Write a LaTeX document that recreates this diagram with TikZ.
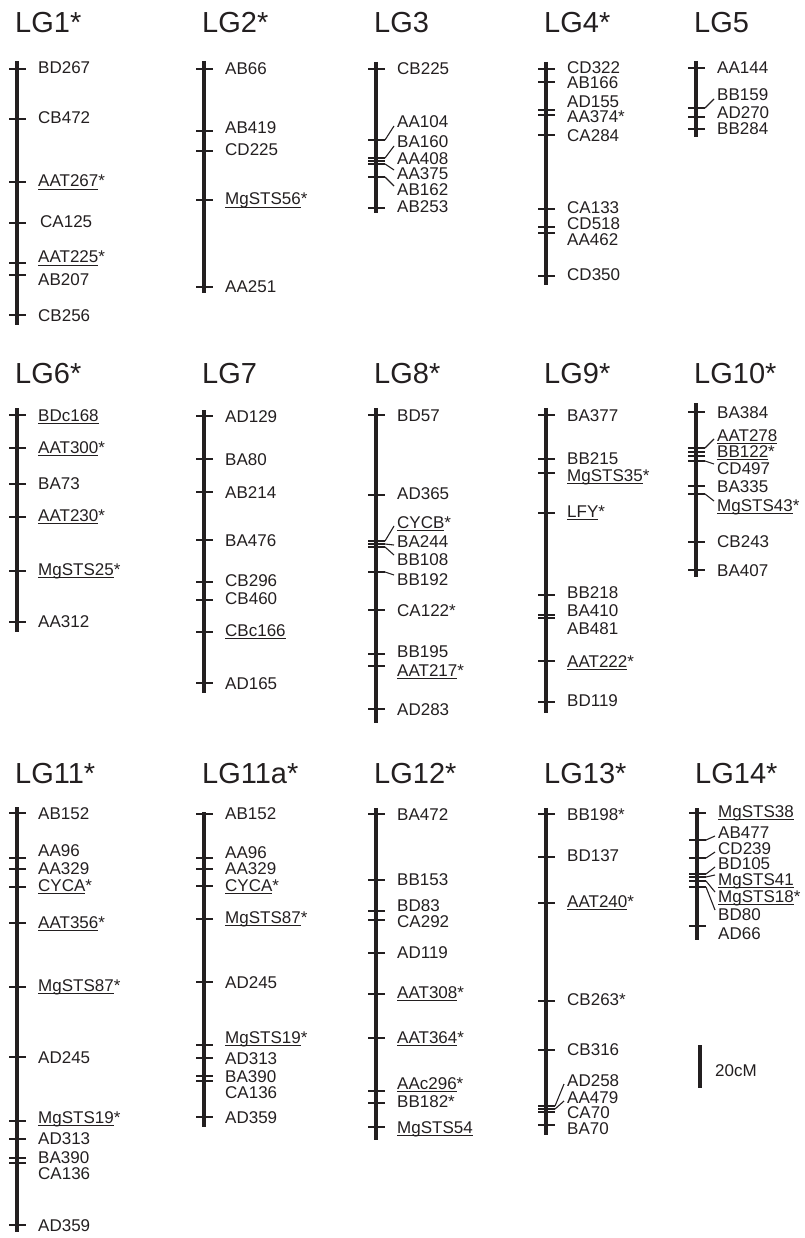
\documentclass[tikz,border=0pt]{standalone}
\usepackage{fontspec}
\setmainfont{Liberation Sans}
\definecolor{ink}{HTML}{231F20}
\newcommand\ul[1]{\setbox0=\hbox{#1}\rlap{\rule[-3.3pt]{\wd0}{1.3pt}}\box0}
\tikzset{
  chromline/.style={line width=4pt, draw=ink},
  tickline/.style={line width=1.8pt, draw=ink},
  leader/.style={line width=1.1pt, draw=ink},
  lbl/.style={anchor=base west, inner sep=0pt, text=ink, font=\fontsize{17}{17}\selectfont},
  ttl/.style={anchor=base west, inner sep=0pt, text=ink, font=\fontsize{29}{29}\selectfont},
}
% chromosome: x, top, bottom
\newcommand\chrom[3]{\draw[chromline] (#1,#2) -- (#1,#3);}
% marker: x, tick y, label y, text
\newcommand\mk[4]{%
  \draw[tickline] ({#1-8},#2) -- ({#1+9},#2);
  \node[lbl] at ({#1+21},{#3+6}) {#4};}
% marker with leader line
\newcommand\mkl[4]{%
  \draw[tickline] ({#1-8},#2) -- ({#1+9},#2);
  \draw[leader] ({#1+9},#2) -- ({#1+18},{#3+4*sign(#2-#3)});
  \node[lbl] at ({#1+21},{#3+6}) {#4};}
\newcommand\grp[3]{\node[ttl] at ({#1-2},#2) {#3};}
\begin{document}
\begin{tikzpicture}[x=1pt,y=-1pt]
\useasboundingbox (0,0) rectangle (804,1238);
% ---------- Row 1 ----------
\grp{17}{33}{LG1*}
\chrom{17}{61}{325}
\mk{17}{69}{68}{BD267}
\mk{17}{119}{118}{CB472}
\mk{17}{182}{181}{\ul{AAT267}*}
\mk{17}{223}{222}{\hspace{2pt}CA125}
\mk{17}{263}{257}{\ul{AAT225}*}
\mk{17}{275}{280}{AB207}
\mk{17}{315}{315}{CB256}

\grp{204}{33}{LG2*}
\chrom{204}{61}{293}
\mk{204}{69}{69}{AB66}
\mk{204}{131}{128}{AB419}
\mk{204}{151}{150}{CD225}
\mk{204}{200}{199}{\ul{MgSTS56}*}
\mk{204}{287}{287}{AA251}

\grp{376}{33}{LG3}
\chrom{376}{62}{213}
\mk{376}{69}{69}{CB225}
\mkl{376}{140}{122}{AA104}
\mkl{376}{158}{142}{BA160}
\mk{376}{161}{159}{AA408}
\mkl{376}{164}{174}{AA375}
\mkl{376}{177}{190}{AB162}
\mk{376}{208}{207}{AB253}

\grp{546}{33}{LG4*}
\chrom{546}{62}{285}
\mk{546}{69}{68}{CD322}
\mk{546}{82}{83}{AB166}
\mk{546}{110}{102}{AD155}
\mk{546}{115}{117}{AA374*}
\mk{546}{135}{136}{CA284}
\mk{546}{209}{208}{CA133}
\mk{546}{227}{224}{CD518}
\mk{546}{233}{240}{AA462}
\mk{546}{276}{275}{CD350}

\grp{696}{33}{LG5}
\chrom{696}{61}{137}
\mk{696}{68}{68}{AA144}
\mkl{696}{108}{95}{BB159}
\mk{696}{117}{113}{AD270}
\mk{696}{129}{129}{BB284}

% ---------- Row 2 ----------
\grp{17}{383}{LG6*}
\chrom{17}{408}{632}
\mk{17}{415}{415}{\ul{BDc168}}
\mk{17}{448}{447}{\ul{AAT300}*}
\mk{17}{484}{483}{BA73}
\mk{17}{517}{515}{\ul{AAT230}*}
\mk{17}{571}{569}{\ul{MgSTS25}*}
\mk{17}{622}{621}{AA312}

\grp{204}{383}{LG7}
\chrom{204}{410}{693}
\mk{204}{416}{416}{AD129}
\mk{204}{459}{459}{BA80}
\mk{204}{492}{492}{AB214}
\mk{204}{540}{540}{BA476}
\mk{204}{582}{580}{CB296}
\mk{204}{600}{598}{CB460}
\mk{204}{632}{630}{\ul{CBc166}}
\mk{204}{683}{683}{AD165}

\grp{376}{383}{LG8*}
\chrom{376}{408}{723}
\mk{376}{415}{415}{BD57}
\mk{376}{495}{493}{AD365}
\mkl{376}{541}{522}{\ul{CYCB}*}
\mkl{376}{544}{541}{BA244}
\mkl{376}{547}{559}{BB108}
\mkl{376}{572}{579}{BB192}
\mk{376}{610}{610}{CA122*}
\mk{376}{654}{651}{BB195}
\mk{376}{666}{670}{\ul{AAT217}*}
\mk{376}{709}{709}{AD283}

\grp{546}{383}{LG9*}
\chrom{546}{408}{713}
\mk{546}{415}{415}{BA377}
\mk{546}{459}{458}{BB215}
\mk{546}{473}{475}{\ul{MgSTS35}*}
\mk{546}{513}{511}{\ul{LFY}*}
\mk{546}{595}{592}{BB218}
\mk{546}{615}{610}{BA410}
\mk{546}{618}{628}{AB481}
\mk{546}{661}{661}{\ul{AAT222}*}
\mk{546}{702}{700}{BD119}

\grp{696}{383}{LG10*}
\chrom{696}{403}{577}
\mk{696}{412}{412}{BA384}
\mkl{696}{448}{435}{\ul{AAT278}}
\mk{696}{452}{451}{\ul{BB122}*}
\draw[tickline] (688,456) -- (705,456);
\mkl{696}{461}{468}{CD497}
\mk{696}{486}{486}{BA335}
\mkl{696}{494}{505}{\ul{MgSTS43}*}
\mk{696}{542}{541}{CB243}
\mk{696}{570}{570}{BA407}

% ---------- Row 3 ----------
\grp{17}{783}{LG11*}
\chrom{17}{807}{1232}
\mk{17}{813}{813}{AB152}
\mk{17}{858}{850}{AA96}
\mk{17}{869}{868}{AA329}
\mk{17}{887}{885}{\ul{CYCA}*}
\mk{17}{923}{922}{\ul{AAT356}*}
\mk{17}{987}{985}{\ul{MgSTS87}*}
\mk{17}{1057}{1057}{AD245}
\mk{17}{1121}{1117}{\ul{MgSTS19}*}
\mk{17}{1139}{1138}{AD313}
\mk{17}{1158}{1157}{BA390}
\mk{17}{1163}{1173}{CA136}
\mk{17}{1225}{1225}{AD359}

\grp{204}{783}{LG11a*}
\chrom{204}{812}{1127}
\mk{204}{814}{813}{AB152}
\mk{204}{858}{852}{AA96}
\mk{204}{869}{868}{AA329}
\mk{204}{886}{885}{\ul{CYCA}*}
\mk{204}{919}{917}{\ul{MgSTS87}*}
\mk{204}{982}{982}{AD245}
\mk{204}{1045}{1037}{\ul{MgSTS19}*}
\mk{204}{1058}{1058}{AD313}
\mk{204}{1076}{1076}{BA390}
\mk{204}{1081}{1092}{CA136}
\mk{204}{1117}{1117}{AD359}

\grp{376}{783}{LG12*}
\chrom{376}{808}{1140}
\mk{376}{814}{814}{BA472}
\mk{376}{880}{879}{BB153}
\mk{376}{911}{905}{BD83}
\mk{376}{920}{921}{CA292}
\mk{376}{953}{952}{AD119}
\mk{376}{994}{992}{\ul{AAT308}*}
\mk{376}{1038}{1037}{\ul{AAT364}*}
\mk{376}{1091}{1083}{\ul{AAc296}*}
\mk{376}{1103}{1101}{BB182*}
\mk{376}{1127}{1127}{\ul{MgSTS54}}

\grp{546}{783}{LG13*}
\chrom{546}{808}{1135}
\mk{546}{814}{814}{BB198*}
\mk{546}{857}{855}{BD137}
\mk{546}{903}{901}{\ul{AAT240}*}
\mk{546}{1001}{999}{CB263*}
\mk{546}{1050}{1049}{CB316}
\mkl{546}{1106}{1080}{AD258}
\mkl{546}{1109}{1097}{AA479}
\mk{546}{1112}{1112}{CA70}
\mk{546}{1125}{1128}{BA70}

\grp{697}{783}{LG14*}
\chrom{697}{808}{940}
\mk{697}{813}{811}{\ul{MgSTS38}}
\mkl{697}{840}{832}{AB477}
\mkl{697}{858}{848}{CD239}
\mkl{697}{874}{863}{BD105}
\mkl{697}{877}{879}{\ul{MgSTS41}}
\mkl{697}{881}{896}{\ul{MgSTS18}*}
\mkl{697}{887}{914}{BD80}
\mk{697}{926}{933}{AD66}

% scale bar
\draw[chromline] (700,1045) -- (700,1088);
\node[lbl] (scale) at (715,1076) {20cM};
\end{tikzpicture}
\end{document}
